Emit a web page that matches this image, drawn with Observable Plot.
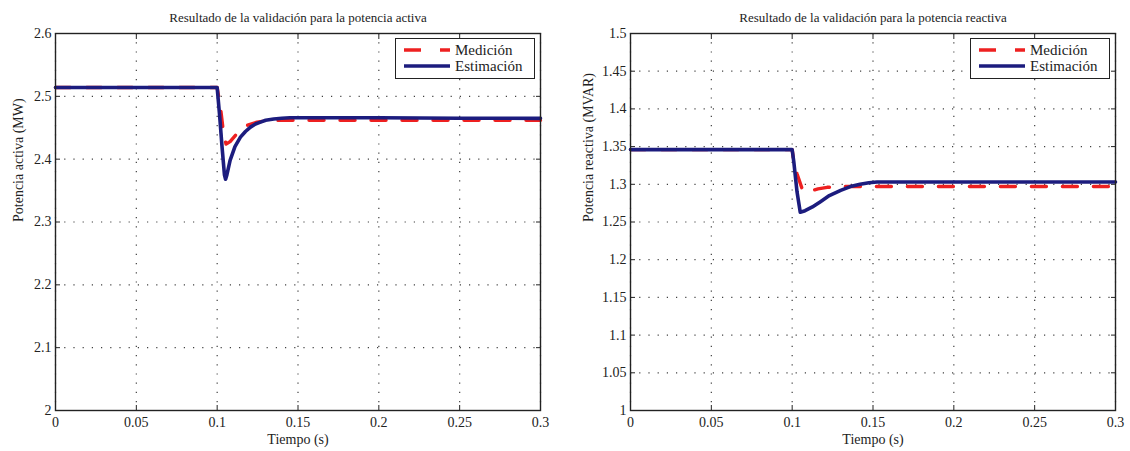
<!DOCTYPE html>
<html>
<head>
<meta charset="utf-8">
<script src="https://cdn.jsdelivr.net/npm/d3@7"></script>
<script src="https://cdn.jsdelivr.net/npm/@observablehq/plot@0.6"></script>
<style>
  html, body { margin: 0; padding: 0; background: #fff; }
  #wrap { position: relative; width: 1130px; height: 451px; overflow: hidden; font-family: "Liberation Serif", "Times New Roman", Times, serif; }
  .panel { position: absolute; top: 0; }
  .panel text { font-family: "Liberation Serif", "Times New Roman", Times, serif; }
  .legend { position: absolute; background: #fff; border: 1.3px solid #222; font-size: 15px; color: #222; box-sizing: border-box; padding: 3px 6px; font-family: "Liberation Serif", "Times New Roman", Times, serif; }
  .legend .row { display: flex; align-items: center; height: 16px; }
  .legend svg { margin-right: 5px; }
</style>
</head>
<body>
<div id="wrap"></div>
<script>
// ---------- data ----------
const xTicks = [0, 0.05, 0.1, 0.15, 0.2, 0.25, 0.3];
const yTicksActiva = [2, 2.1, 2.2, 2.3, 2.4, 2.5, 2.6];
const yTicksReactiva = [1, 1.05, 1.1, 1.15, 1.2, 1.25, 1.3, 1.35, 1.4, 1.45, 1.5];
const seriesNames = ["Medición", "Estimación"];

// Potencia activa — Medición
const tActMed = [0, 0.1, 0.102, 0.104, 0.1055, 0.108, 0.112, 0.1175, 0.1247, 0.13, 0.14, 0.15, 0.2, 0.3];
const pActMed = [2.514, 2.514, 2.483, 2.44, 2.424, 2.428, 2.44, 2.453, 2.459, 2.461, 2.462, 2.462, 2.462, 2.462];
// Potencia activa — Estimación
const tActEst = [0, 0.1, 0.1015, 0.103, 0.1045, 0.1052, 0.106, 0.108, 0.111, 0.1144, 0.1175, 0.1206, 0.1237, 0.1268, 0.13, 0.135, 0.14, 0.145, 0.15, 0.2, 0.25, 0.3];
const pActEst = [2.514, 2.514, 2.47, 2.42, 2.375, 2.368, 2.375, 2.398, 2.42, 2.435, 2.444, 2.451, 2.456, 2.459, 2.462, 2.464, 2.465, 2.466, 2.466, 2.466, 2.465, 2.465];

// Potencia reactiva — Medición
const tReaMed = [0, 0.1, 0.101, 0.103, 0.106, 0.108, 0.111, 0.116, 0.1216, 0.13, 0.138, 0.15, 0.2, 0.3];
const qReaMed = [1.346, 1.346, 1.33, 1.314, 1.295, 1.289, 1.291, 1.294, 1.296, 1.297, 1.297, 1.297, 1.297, 1.297];
// Potencia reactiva — Estimación
const tReaEst = [0, 0.1, 0.101, 0.103, 0.105, 0.108, 0.1125, 0.1175, 0.123, 0.13, 0.136, 0.142, 0.1475, 0.1525, 0.16, 0.2, 0.3];
const qReaEst = [1.346, 1.346, 1.33, 1.29, 1.263, 1.265, 1.27, 1.277, 1.285, 1.292, 1.297, 1.3, 1.302, 1.303, 1.303, 1.303, 1.303];

const RED = "#ee2020";
const BLUE = "#1c1c7e";
const FONT = '"Liberation Serif", "Times New Roman", Times, serif';
const fmt = d => String(+(+d).toFixed(2));

function zip(t, v) { return t.map((x, i) => ({t: x, v: v[i]})); }

function makePanel({title, ylabel, yDomain, yTicks, med, est, left, width, marginLeft, marginRight, labelDx}) {
  const p = Plot.plot({
    width, height: 451,
    marginLeft, marginRight, marginTop: 33, marginBottom: 41,
    style: `font-family: ${FONT}; font-size: 14px; color: #222; background: #fff;`,
    x: {domain: [0, 0.3]},
    y: {domain: yDomain},
    marks: [
      Plot.gridX(xTicks, {stroke: "#000", strokeOpacity: 0.75, strokeDasharray: "1.2,8", strokeWidth: 1.2}),
      Plot.gridY(yTicks, {stroke: "#000", strokeOpacity: 0.75, strokeDasharray: "1.2,8", strokeWidth: 1.2}),
      Plot.axisX(xTicks, {anchor: "bottom", tickSize: -5, tickPadding: 12, tickFormat: fmt, label: null, fontSize: 14, fontFamily: FONT}),
      Plot.axisX(xTicks, {anchor: "top", tickSize: -5, tickFormat: () => "", label: null}),
      Plot.axisY(yTicks, {anchor: "left", tickSize: -5, tickPadding: 9, tickFormat: fmt, label: null, fontSize: 14, fontFamily: FONT}),
      Plot.axisY(yTicks, {anchor: "right", tickSize: -5, tickFormat: () => "", label: null}),
      Plot.line(med, {x: "t", y: "v", stroke: RED, strokeWidth: 3.4, strokeDasharray: "15,16"}),
      Plot.line(est, {x: "t", y: "v", stroke: BLUE, strokeWidth: 3.6}),
      Plot.frame({stroke: "#222", strokeWidth: 1.4}),
      Plot.text([title], {frameAnchor: "top", dy: -21, fontSize: 13, fill: "#222", fontFamily: FONT}),
      Plot.text(["Tiempo (s)"], {frameAnchor: "bottom", dy: 33, fontSize: 14, fill: "#222", fontFamily: FONT}),
      Plot.text([ylabel], {frameAnchor: "left", dx: labelDx, rotate: -90, fontSize: 14, fill: "#222", fontFamily: FONT})
    ]
  });
  p.classList.add("panel");
  p.style.left = left + "px";
  return p;
}

function legend(left, top) {
  const d = document.createElement("div");
  d.className = "legend";
  d.style.left = left + "px";
  d.style.top = top + "px";
  d.style.width = "140px";
  d.style.height = "41px";
  d.innerHTML = `
    <div class="row"><svg width="48" height="8"><line x1="2" y1="4" x2="48" y2="4" stroke="${RED}" stroke-width="3.4" stroke-dasharray="17,19"/></svg><span>${seriesNames[0]}</span></div>
    <div class="row"><svg width="48" height="8"><line x1="2" y1="4" x2="48" y2="4" stroke="${BLUE}" stroke-width="3.6"/></svg><span>${seriesNames[1]}</span></div>`;
  return d;
}

const wrap = document.getElementById("wrap");
wrap.appendChild(makePanel({
  title: "Resultado de la validación para la potencia activa",
  ylabel: "Potencia activa (MW)", yDomain: [2, 2.6], yTicks: yTicksActiva,
  med: zip(tActMed, pActMed), est: zip(tActEst, pActEst),
  left: 0, width: 565, marginLeft: 55, marginRight: 25, labelDx: -37
}));
wrap.appendChild(makePanel({
  title: "Resultado de la validación para la potencia reactiva",
  ylabel: "Potencia reactiva (MVAR)", yDomain: [1, 1.5], yTicks: yTicksReactiva,
  med: zip(tReaMed, qReaMed), est: zip(tReaEst, qReaEst),
  left: 565, width: 565, marginLeft: 65, marginRight: 15, labelDx: -42
}));
wrap.appendChild(legend(395, 38));
wrap.appendChild(legend(970, 38));
</script>
</body>
</html>
